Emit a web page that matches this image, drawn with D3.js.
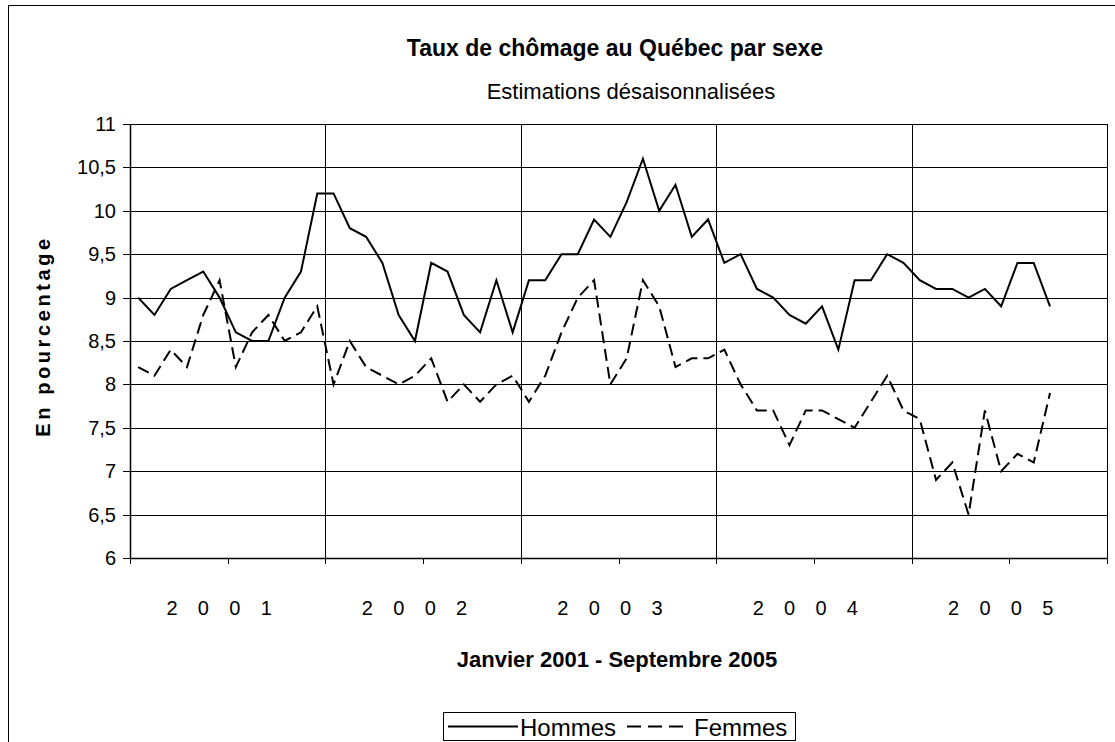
<!DOCTYPE html>
<html>
<head>
<meta charset="utf-8">
<script src="https://cdn.jsdelivr.net/npm/d3@7/dist/d3.min.js"></script>
<style>
	body { margin: 0; background: #fff; }
	text { font-family: "Liberation Sans", Arial, sans-serif; fill: #000; }
</style>
</head>
<body>
<svg id="chart" width="1115" height="742"></svg>
<script>
const years = ['2001', '2002', '2003', '2004', '2005'];
const months = ['janv', 'févr', 'mars', 'avr', 'mai', 'juin', 'juil', 'août', 'sept', 'oct', 'nov', 'déc'];
// janvier 2001 - septembre 2005
const hommes = [
	9.0, 8.8, 9.1, 9.2, 9.3, 9.0, 8.6, 8.5, 8.5, 9.0, 9.3, 10.2,
	10.2, 9.8, 9.7, 9.4, 8.8, 8.5, 9.4, 9.3, 8.8, 8.6, 9.2, 8.6,
	9.2, 9.2, 9.5, 9.5, 9.9, 9.7, 10.1, 10.6, 10.0, 10.3, 9.7, 9.9,
	9.4, 9.5, 9.1, 9.0, 8.8, 8.7, 8.9, 8.4, 9.2, 9.2, 9.5, 9.4,
	9.2, 9.1, 9.1, 9.0, 9.1, 8.9, 9.4, 9.4, 8.9
];
const femmes = [
	8.2, 8.1, 8.4, 8.2, 8.8, 9.2, 8.2, 8.6, 8.8, 8.5, 8.6, 8.9,
	8.0, 8.5, 8.2, 8.1, 8.0, 8.1, 8.3, 7.8, 8.0, 7.8, 8.0, 8.1,
	7.8, 8.1, 8.6, 9.0, 9.2, 8.0, 8.3, 9.2, 8.9, 8.2, 8.3, 8.3,
	8.4, 8.0, 7.7, 7.7, 7.3, 7.7, 7.7, 7.6, 7.5, 7.8, 8.1, 7.7,
	7.6, 6.9, 7.1, 6.5, 7.7, 7.0, 7.2, 7.1, 7.9
];
const yTicks = [6, 6.5, 7, 7.5, 8, 8.5, 9, 9.5, 10, 10.5, 11];

const categories = [];
years.forEach(y => months.forEach(m => categories.push(m + ' ' + y)));

const svg = d3.select('#chart');
const fr = d3.formatLocale({ decimal: ',', thousands: ' ', grouping: [3], currency: ['', ' $'] });
const fmt = v => fr.format('~g')(v);

const plot = { left: 130, right: 1107, top: 124, bottom: 558 };

const x = d3.scaleBand()
	.domain(categories)
	.range([plot.left, plot.right])
	.padding(0);
const y = d3.scaleLinear()
	.domain([6, 11])
	.range([plot.bottom, plot.top]);
const cx = i => x(categories[i]) + x.bandwidth() / 2;

// cadre extérieur
svg.append('rect')
	.attr('x', 8.5).attr('y', 5.5)
	.attr('width', 1120).attr('height', 750)
	.attr('fill', 'none').attr('stroke', '#000').attr('stroke-width', 1);

// titres
svg.append('text')
	.attr('x', 615).attr('y', 56)
	.attr('text-anchor', 'middle')
	.style('font-size', '23px').style('font-weight', 'bold')
	.text('Taux de chômage au Québec par sexe');
svg.append('text')
	.attr('x', 631).attr('y', 99)
	.attr('text-anchor', 'middle')
	.style('font-size', '22px')
	.text('Estimations désaisonnalisées');

// grille horizontale
svg.append('g')
	.selectAll('line')
	.data(yTicks)
	.enter()
	.append('line')
	.attr('x1', plot.left - 7)
	.attr('x2', plot.right)
	.attr('y1', d => Math.round(y(d)) + 0.5)
	.attr('y2', d => Math.round(y(d)) + 0.5)
	.attr('stroke', '#000').attr('stroke-width', 1);

// grille verticale (début de chaque année)
svg.append('g')
	.selectAll('line')
	.data(years.slice(1))
	.enter()
	.append('line')
	.attr('x1', (d, i) => Math.round(x(categories[(i + 1) * 12])) + 0.5)
	.attr('x2', (d, i) => Math.round(x(categories[(i + 1) * 12])) + 0.5)
	.attr('y1', plot.top)
	.attr('y2', plot.bottom)
	.attr('stroke', '#000').attr('stroke-width', 1);

// bord droit de la zone de traçage
svg.append('line')
	.attr('x1', plot.right + 0.5).attr('x2', plot.right + 0.5)
	.attr('y1', plot.top).attr('y2', plot.bottom)
	.attr('stroke', '#000');

// axes
svg.append('line')
	.attr('x1', plot.left + 0.5).attr('x2', plot.left + 0.5)
	.attr('y1', plot.top).attr('y2', plot.bottom)
	.attr('stroke', '#000').attr('stroke-width', 1.5);
svg.append('line')
	.attr('x1', plot.left).attr('x2', plot.right)
	.attr('y1', plot.bottom + 0.5).attr('y2', plot.bottom + 0.5)
	.attr('stroke', '#000').attr('stroke-width', 1.5);

// graduations en x, tous les 6 mois
const tickIdx = d3.range(0, categories.length + 1, 6);
svg.append('g')
	.selectAll('line')
	.data(tickIdx)
	.enter()
	.append('line')
	.attr('x1', d => Math.round(d < categories.length ? x(categories[d]) : plot.right) + 0.5)
	.attr('x2', d => Math.round(d < categories.length ? x(categories[d]) : plot.right) + 0.5)
	.attr('y1', plot.bottom)
	.attr('y2', plot.bottom + 6)
	.attr('stroke', '#000');

// étiquettes en y
svg.append('g')
	.selectAll('text')
	.data(yTicks)
	.enter()
	.append('text')
	.attr('x', 116)
	.attr('y', d => y(d) + 7)
	.attr('text-anchor', 'end')
	.style('font-size', '20px')
	.text(d => fmt(d));

// étiquettes des années, centrées sur juin
svg.append('g')
	.selectAll('text')
	.data(years)
	.enter()
	.append('text')
	.attr('x', (d, i) => cx(i * 12 + 5))
	.attr('y', 615)
	.attr('text-anchor', 'middle')
	.style('font-size', '20px')
	.style('letter-spacing', '0.9px')
	.style('white-space', 'pre')
	.text(d => d.split('').join('   '));

// titres des axes
svg.append('text')
	.attr('x', 617).attr('y', 667)
	.attr('text-anchor', 'middle')
	.style('font-size', '22px').style('font-weight', 'bold')
	.text('Janvier 2001 - Septembre 2005');
svg.append('text')
	.attr('transform', 'translate(50,336) rotate(-90)')
	.attr('text-anchor', 'middle')
	.style('font-size', '20px').style('font-weight', 'bold')
	.style('letter-spacing', '3.6px')
	.text('En pourcentage');

// séries
const line = d3.line()
	.x((d, i) => cx(i))
	.y(d => y(d));

svg.append('path')
	.datum(hommes)
	.attr('d', line)
	.attr('fill', 'none')
	.attr('stroke', '#000')
	.attr('stroke-width', 2);

svg.append('path')
	.datum(femmes)
	.attr('d', line)
	.attr('fill', 'none')
	.attr('stroke', '#000')
	.attr('stroke-width', 2)
	.attr('stroke-dasharray', '12,6');

// légende
const legend = svg.append('g').attr('transform', 'translate(443,712)');
legend.append('rect')
	.attr('x', 0.5).attr('y', 0.5)
	.attr('width', 352).attr('height', 28)
	.attr('fill', '#fff').attr('stroke', '#000');
legend.append('line')
	.attr('x1', 5).attr('x2', 75)
	.attr('y1', 14.5).attr('y2', 14.5)
	.attr('stroke', '#000').attr('stroke-width', 2);
legend.append('text')
	.attr('x', 77).attr('y', 24)
	.style('font-size', '24px')
	.text('Hommes');
legend.append('line')
	.attr('x1', 184).attr('x2', 247)
	.attr('y1', 14.5).attr('y2', 14.5)
	.attr('stroke', '#000').attr('stroke-width', 2)
	.attr('stroke-dasharray', '14,7');
legend.append('text')
	.attr('x', 251).attr('y', 24)
	.style('font-size', '24px')
	.text('Femmes');
</script>
</body>
</html>
